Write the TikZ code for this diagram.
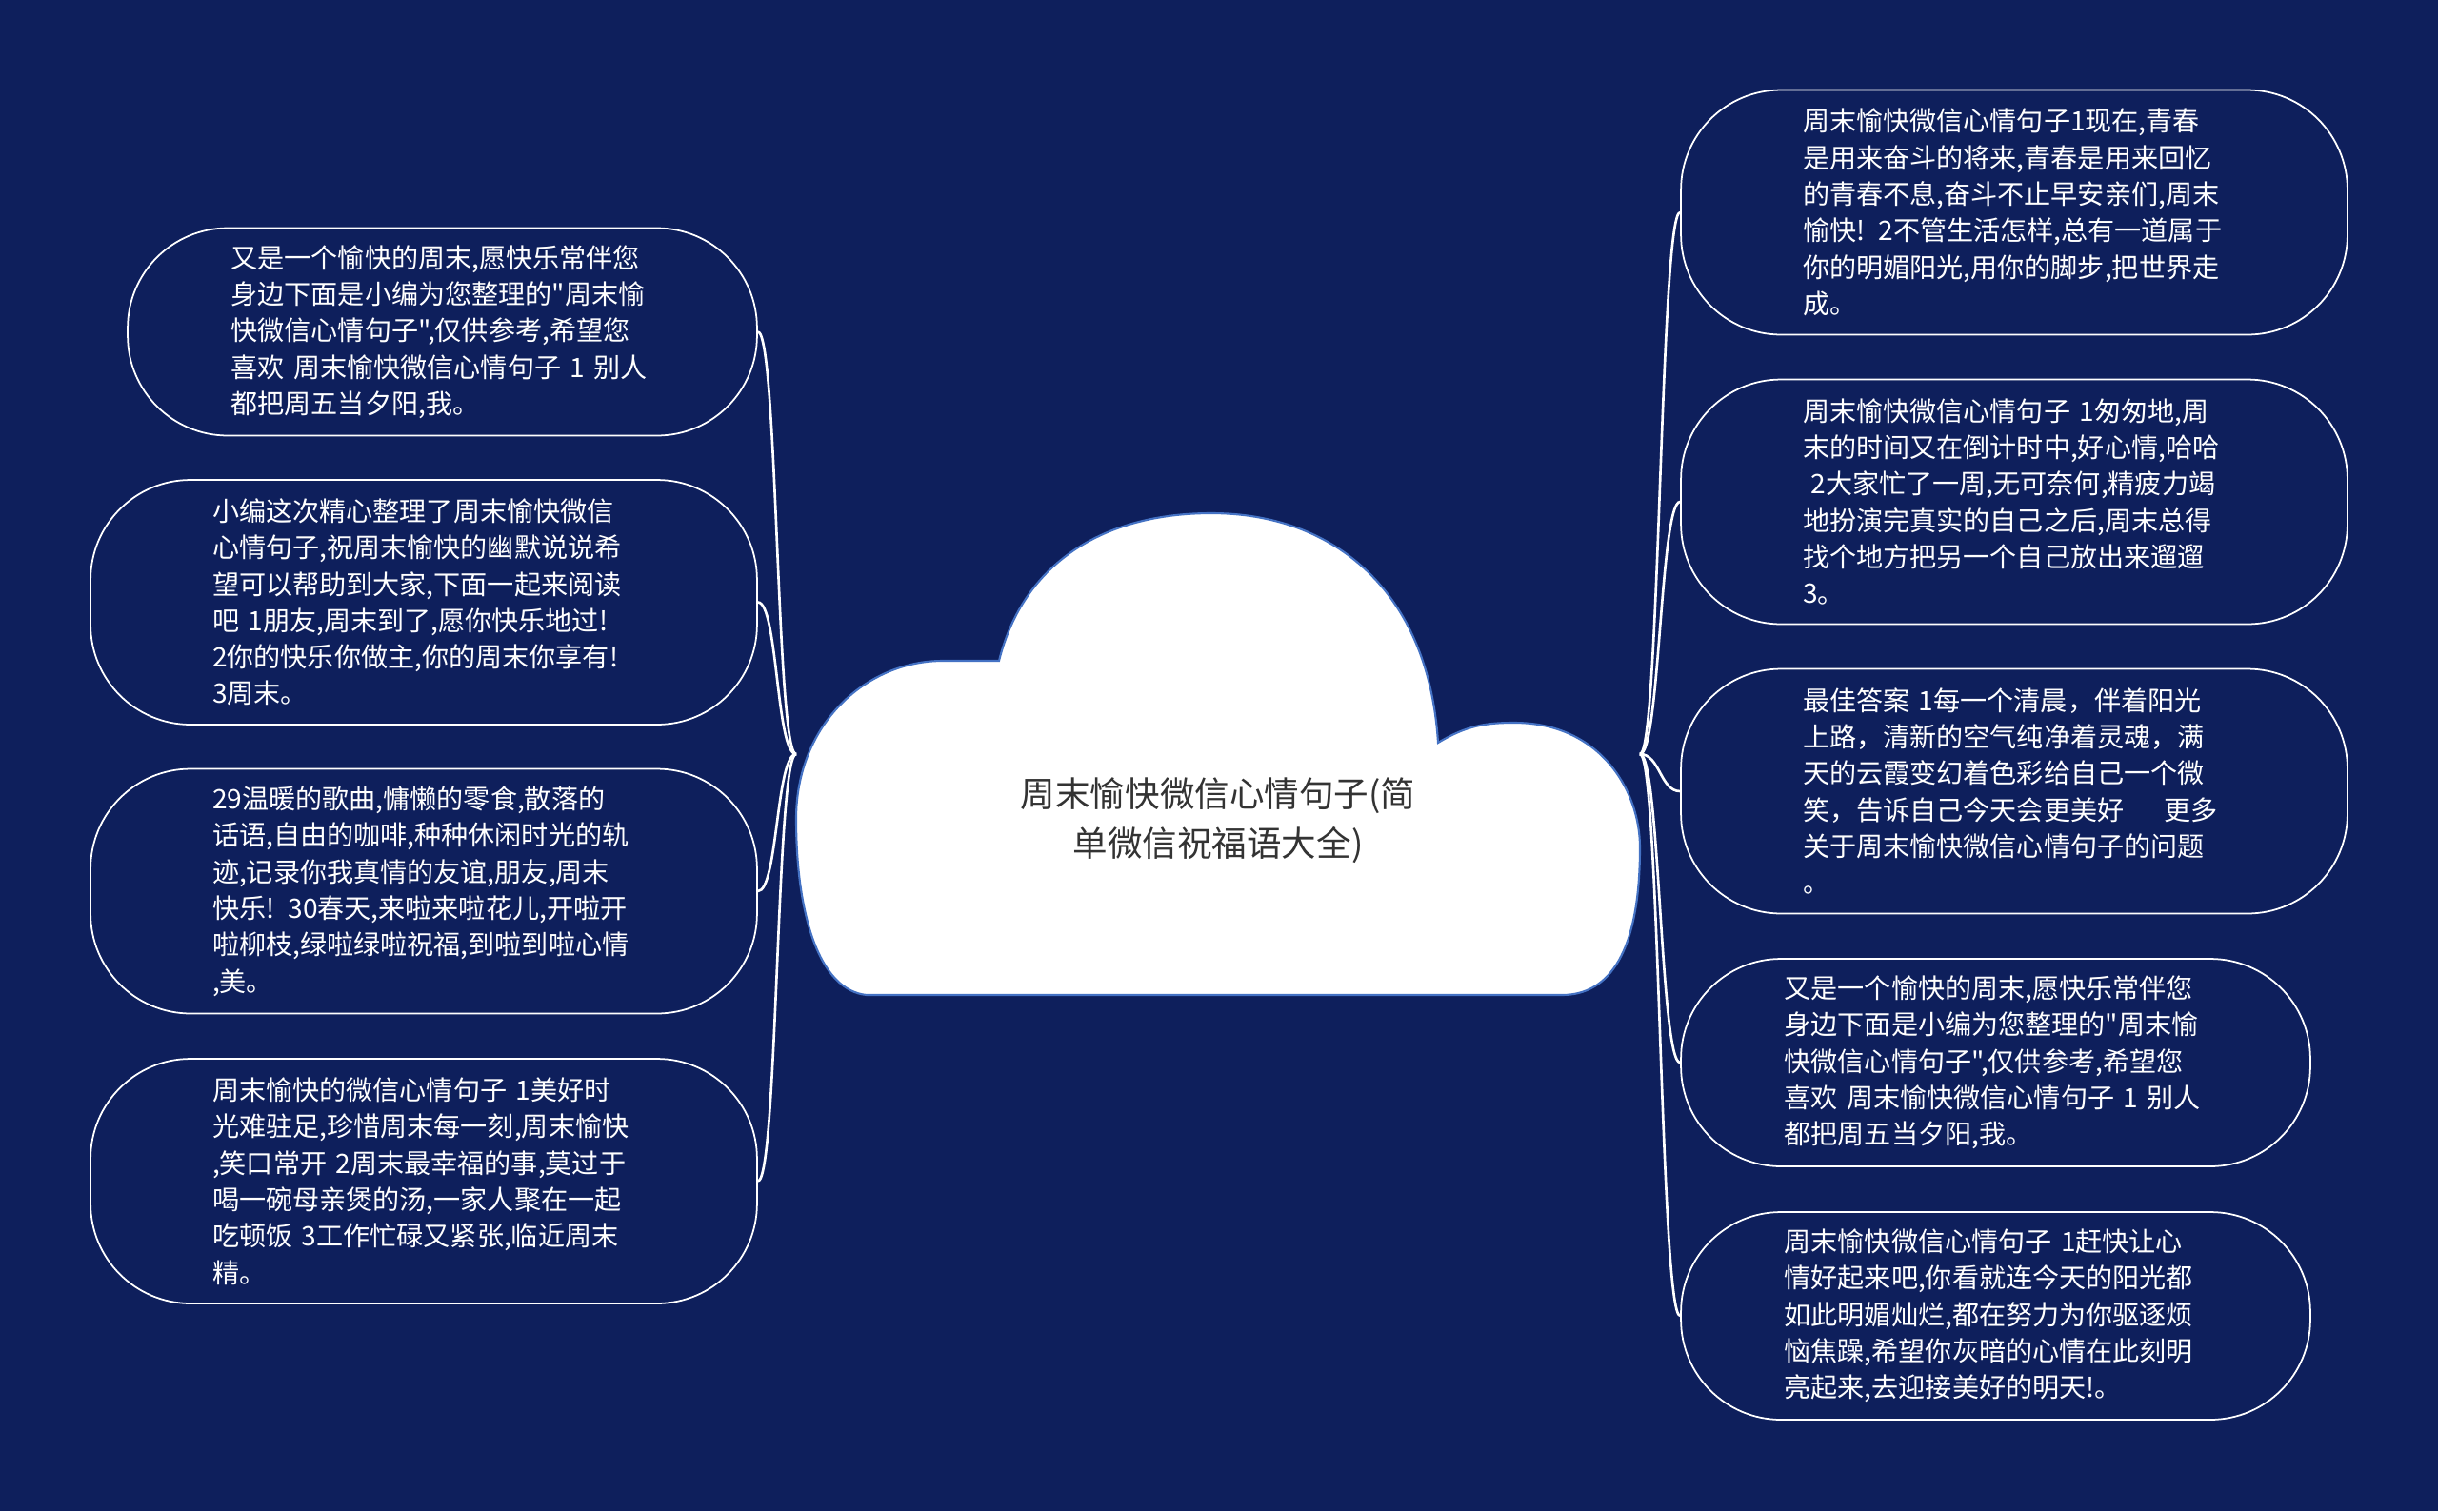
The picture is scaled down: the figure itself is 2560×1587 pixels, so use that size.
\documentclass[tikz,border=0pt]{standalone}
\usepackage{fontspec}
\setmainfont{Noto Sans CJK SC}[Ligatures=TeXOff]
\usetikzlibrary{positioning}
\definecolor{navy}{HTML}{0E1F5C}
\definecolor{cloudline}{HTML}{4472C4}
\definecolor{titlegray}{HTML}{333333}

\begin{document}
\begin{tikzpicture}[x=0.02cm, y=-0.02cm,
  leaf/.style={draw=white, line width=1pt, rounded corners=2.1cm, text=white,
    text width=8.88cm, align=left, font=\fontsize{16}{21.8}\selectfont,
    minimum width=14cm, minimum height=5.14cm},
  short/.style={minimum width=13.22cm, minimum height=4.36cm},
  link/.style={draw=white, line width=1.5pt},
  title/.style={text=titlegray, align=center, font=\fontsize{20.8}{29.6}\selectfont}]
  \fill[navy] (0,0) rectangle (2560,1587);
  \useasboundingbox (0,0) rectangle (2560,1587);

  \draw[fill=white, draw=cloudline, line width=1.2pt] (910,1045)
    .. controls (860,1040) and (836,960) .. (836,860)
    .. controls (836,760) and (910,694) .. (990,694) -- (1049,694)
    .. controls (1075,590) and (1160,539) .. (1272,539)
    .. controls (1400,539) and (1500,620) .. (1510,780)
    .. controls (1540,762) and (1560,759) .. (1590,759)
    .. controls (1680,759) and (1722,830) .. (1722,890)
    .. controls (1722,1000) and (1690,1045) .. (1640,1045) -- cycle;
  \node[title] (title) at (1279,862) {周末愉快微信心情句子(简\\单微信祝福语大全)};
  \coordinate (rootw) at (836,792);
  \coordinate (roote) at (1722,792);

  \node[leaf, short] (l1) at (464.5,348.5) {又是一个愉快的周末,愿快乐常伴您\\身边下面是小编为您整理的"周末愉\\快微信心情句子",仅供参考,希望您\\喜欢 周末愉快微信心情句子 1 别人\\都把周五当夕阳,我。};
  \node[leaf] (l2) at (445,632.5) {小编这次精心整理了周末愉快微信\\心情句子,祝周末愉快的幽默说说希\\望可以帮助到大家,下面一起来阅读\\吧 1朋友,周末到了,愿你快乐地过!\\2你的快乐你做主,你的周末你享有!\\3周末。};
  \node[leaf] (l3) at (445,936) {29温暖的歌曲,慵懒的零食,散落的\\话语,自由的咖啡,种种休闲时光的轨\\迹,记录你我真情的友谊,朋友,周末\\快乐! 30春天,来啦来啦花儿,开啦开\\啦柳枝,绿啦绿啦祝福,到啦到啦心情\\,美。};
  \node[leaf] (l4) at (445,1240.5) {周末愉快的微信心情句子 1美好时\\光难驻足,珍惜周末每一刻,周末愉快\\,笑口常开 2周末最幸福的事,莫过于\\喝一碗母亲煲的汤,一家人聚在一起\\吃顿饭 3工作忙碌又紧张,临近周末\\精。};

  \node[leaf] (r1) at (2115,223) {周末愉快微信心情句子1现在,青春\\是用来奋斗的将来,青春是用来回忆\\的青春不息,奋斗不止早安亲们,周末\\愉快! 2不管生活怎样,总有一道属于\\你的明媚阳光,用你的脚步,把世界走\\成。};
  \node[leaf] (r2) at (2115,527) {周末愉快微信心情句子 1匆匆地,周\\末的时间又在倒计时中,好心情,哈哈\\\hspace*{0.3em}2大家忙了一周,无可奈何,精疲力竭\\地扮演完真实的自己之后,周末总得\\找个地方把另一个自己放出来遛遛\\3。};
  \node[leaf] (r3) at (2115,831) {最佳答案 1每一个清晨，伴着阳光\\上路，清新的空气纯净着灵魂，满\\天的云霞变幻着色彩给自己一个微\\笑，告诉自己今天会更美好\kern1.5em更多\\关于周末愉快微信心情句子的问题\\。};
  \node[leaf, short] (r4) at (2095.5,1116) {又是一个愉快的周末,愿快乐常伴您\\身边下面是小编为您整理的"周末愉\\快微信心情句子",仅供参考,希望您\\喜欢 周末愉快微信心情句子 1 别人\\都把周五当夕阳,我。};
  \node[leaf, short] (r5) at (2095.5,1382) {周末愉快微信心情句子 1赶快让心\\情好起来吧,你看就连今天的阳光都\\如此明媚灿烂,都在努力为你驱逐烦\\恼焦躁,希望你灰暗的心情在此刻明\\亮起来,去迎接美好的明天!。};

  \foreach \n in {l1,l2,l3,l4}
    \draw[link] (rootw) .. controls +(-21,0) and +(21,0) .. (\n.east);
  \foreach \n in {r1,r2,r3,r4,r5}
    \draw[link] (roote) .. controls +(21,0) and +(-21,0) .. (\n.west);
\end{tikzpicture}
\end{document}
